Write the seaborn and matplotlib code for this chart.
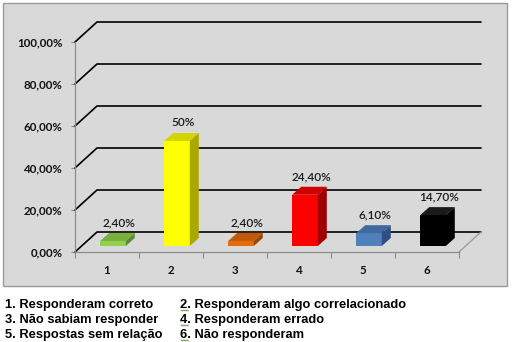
import numpy as np
import matplotlib
matplotlib.use("Agg")
import matplotlib.pyplot as plt
from matplotlib.patches import Rectangle, Polygon
from matplotlib.lines import Line2D
import seaborn as sns

# Dados
categorias = ["1", "2", "3", "4", "5", "6"]
valores = [2.4, 50.0, 2.4, 24.4, 6.1, 14.7]
cores_frente = ["#92d050", "#ffff00", "#e46c0a", "#ff0000", "#4f81bd", "#000000"]
cores_topo = ["#78b040", "#d4d400", "#c05a08", "#d00000", "#3f6aa0", "#1a1a1a"]
cores_lado = ["#5f8c32", "#a8a800", "#984706", "#a00000", "#2f5080", "#000000"]
ticks_y = [0, 20, 40, 60, 80, 100]
legenda = [
    ("1. Responderam correto", "2. Responderam algo correlacionado"),
    ("3. Não sabiam responder", "4. Responderam errado"),
    ("5. Respostas sem relação", "6. Não responderam"),
]

W, H = 513, 342
sns.set_theme(style="white")
plt.rcParams["font.family"] = ["Lato", "DejaVu Sans"]

fig = plt.figure(figsize=(W / 100, H / 100), dpi=100)
fig.patch.set_facecolor("white")

# Área do gráfico (fundo cinza com borda)
fig.patches.append(Rectangle((3 / W, 1 - 286 / H), 504 / W, 283 / H,
                             transform=fig.transFigure, facecolor="#d9d9d9",
                             edgecolor="#9a9a9a", lw=1.0, zorder=-10))

ax = fig.add_axes([75 / W, 1 - 252 / H, 384 / W, 210 / H])
ax.set_zorder(1)
ax.patch.set_alpha(0)
ax.set_xlim(-0.5, 5.5)
ax.set_ylim(0, 100)

# conversão de pixels para unidades de dados
px_x = 6.0 / 384
px_y = 100.0 / 210
prof_x, prof_y = 22 * px_x, 20 * px_y      # profundidade do "piso"
ext_x, ext_y = 9 * px_x, 8 * px_y          # extrusão das barras
desl_x, desl_y = 6 * px_x, 6 * px_y        # posição das barras no piso

# Paredes de fundo: linhas de grade em perspectiva
for t in ticks_y:
    ax.plot([-0.5, -0.5 + prof_x, 5.5 + prof_x], [t, t + prof_y, t + prof_y],
            color="black", lw=1.2, clip_on=False, zorder=1)
# borda direita do piso
ax.plot([5.5, 5.5 + prof_x], [0, prof_y], color="#9a9a9a", lw=0.9,
        clip_on=False, zorder=1)

sns.barplot(x=categorias, y=valores, hue=categorias, palette=cores_frente,
            width=0.4, saturation=1, legend=False, ax=ax, zorder=3,
            linewidth=0)

for i, (p, v) in enumerate(zip(ax.patches, valores)):
    p.set_x(p.get_x() + desl_x)
    p.set_y(p.get_y() + desl_y)
    p.set_clip_on(False)
    x0 = p.get_x()
    x1 = x0 + p.get_width()
    y0 = p.get_y()
    y1 = y0 + p.get_height()
    topo = Polygon([(x0, y1), (x0 + ext_x, y1 + ext_y), (x1 + ext_x, y1 + ext_y), (x1, y1)],
                   closed=True, facecolor=cores_topo[i], edgecolor="none",
                   zorder=3, clip_on=False)
    lado = Polygon([(x1, y0), (x1 + ext_x, y0 + ext_y), (x1 + ext_x, y1 + ext_y), (x1, y1)],
                   closed=True, facecolor=cores_lado[i], edgecolor="none",
                   zorder=3, clip_on=False)
    ax.add_patch(topo)
    ax.add_patch(lado)
    if float(v).is_integer():
        txt = f"{int(v)}%"
    else:
        txt = f"{v:.2f}".replace(".", ",") + "%"
    ax.text((x0 + x1) / 2 + 6 * px_x, y1 + 18 * px_y, txt, ha="center",
            va="center", fontsize=8.5, color="#1a1a1a", fontweight="semibold",
            zorder=4)

# Eixos
for s in ["top", "right"]:
    ax.spines[s].set_visible(False)
for s in ["left", "bottom"]:
    ax.spines[s].set_color("#8c8c8c")
    ax.spines[s].set_linewidth(0.9)

ax.set_yticks(ticks_y)
ax.set_yticklabels([f"{t:.2f}".replace(".", ",") + "%" for t in ticks_y],
                   fontsize=8.3, fontweight="bold", color="#111111")
ax.tick_params(axis="y", direction="out", length=3, width=0.8,
               color="#8c8c8c", pad=6, left=True)
ax.set_xticks(range(len(categorias)))
ax.set_xticklabels(categorias, fontsize=8.3, fontweight="bold", color="#111111")
ax.set_xticks(np.arange(-0.5, 6.0, 1.0), minor=True)
ax.tick_params(axis="x", which="major", length=0, pad=9)
ax.tick_params(axis="x", which="minor", direction="out", length=4, width=0.8,
               color="#8c8c8c", bottom=True)
ax.set_xlabel("")
ax.set_ylabel("")

# Legenda em texto abaixo do gráfico
for j, (c1, c2) in enumerate(legenda):
    yc = 305 + 15 * j
    y = 1 - yc / H
    fig.text(5 / W, y, c1, ha="left", va="center", fontsize=9.3,
             fontweight="bold", family="Liberation Sans", color="black")
    fig.text(180 / W, y, c2, ha="left", va="center", fontsize=9.3,
             fontweight="bold", family="Liberation Sans", color="black")
    # sublinhado ondulado do corretor ortográfico sob o número
    xs = np.arange(181, 189.5, 1.5)
    ys = yc + 5 + np.where(np.arange(len(xs)) % 2 == 0, 0.0, 1.0)
    fig.add_artist(Line2D(xs / W, 1 - ys / H, transform=fig.transFigure,
                          color="#5a9e3a", lw=0.7))

fig.savefig("out.png", dpi=100, facecolor="white")
